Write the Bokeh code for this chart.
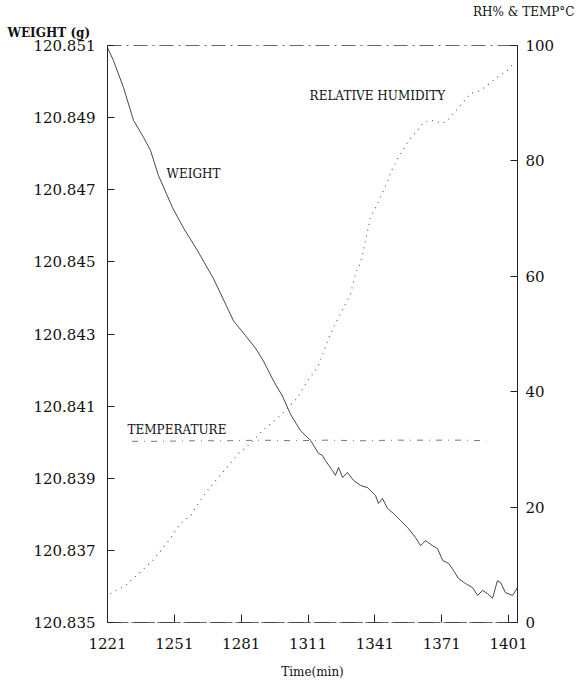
from bokeh.plotting import figure
from bokeh.models import Range1d, LinearAxis, Label, FixedTicker, NumeralTickFormatter, Title
from bokeh.embed import file_html
from bokeh.resources import INLINE

# ---- data ----
time_w = [1221, 1223.7, 1228.2, 1232.7, 1237.2, 1240.3, 1243.9, 1250.2, 1255.1, 1261.4,
          1268.6, 1277.6, 1283.0, 1287.4, 1291.0, 1295.5, 1299.5, 1303.1, 1307.6, 1312.1,
          1315.7, 1317.5, 1318.8, 1322.0, 1323.3, 1324.7, 1326.5, 1328.7, 1331.4, 1334.6,
          1337.7, 1341.3, 1342.6, 1344.4, 1346.7, 1349.4, 1352.5, 1355.7, 1359.2, 1361.5,
          1363.7, 1366.9, 1369.1, 1371.4, 1374.1, 1376.3, 1378.5, 1381.7, 1384.8, 1387.1,
          1389.3, 1391.6, 1393.8, 1396.0, 1397.4, 1399.6, 1402.8, 1405.0]
weight = [120.85094, 120.85058, 120.84983, 120.84892, 120.84845, 120.84809, 120.84739, 120.84650,
          120.84594, 120.84531, 120.84453, 120.84336, 120.84295, 120.84261, 120.84225, 120.84170,
          120.84128, 120.84078, 120.84032, 120.84005, 120.83969, 120.83963, 120.83949, 120.83921,
          120.83908, 120.83930, 120.83902, 120.83916, 120.83894, 120.83880, 120.83874, 120.83852,
          120.83830, 120.83844, 120.83816, 120.83802, 120.83783, 120.83763, 120.83736, 120.83713,
          120.83727, 120.83713, 120.83705, 120.83672, 120.83664, 120.83644, 120.83622, 120.83608,
          120.83597, 120.83575, 120.83589, 120.83580, 120.83567, 120.83616, 120.83611, 120.83583,
          120.83575, 120.83597]

time_rh = [1222.3, 1229.1, 1241.2, 1249.3, 1253.8, 1258.3, 1260.5, 1263.6, 1265.9, 1269.5,
           1275.3, 1279.8, 1286.5, 1290.6, 1295.1, 1299.5, 1301.8, 1306.3, 1310.8, 1315.3,
           1321.1, 1325.6, 1330.1, 1332.3, 1334.6, 1336.8, 1339.0, 1341.3, 1343.5, 1345.8,
           1348.9, 1351.2, 1353.9, 1356.1, 1360.1, 1362.8, 1366.9, 1371.4, 1373.6, 1383.9,
           1388.4, 1396.0, 1400.5, 1403.2]
rh = [5.0, 6.4, 10.7, 14.6, 17.2, 18.5, 19.9, 21.7, 22.9, 24.6,
      27.2, 29.3, 31.5, 33.3, 34.7, 36.2, 37.1, 39.0, 41.9, 44.2,
      50.1, 53.6, 57.0, 60.5, 62.4, 66.2, 70.2, 71.9, 73.7, 75.7,
      78.7, 80.4, 82.1, 83.5, 85.3, 86.7, 87.0, 86.5, 87.0, 91.7,
      92.2, 94.5, 95.7, 96.9]

time_t = [1232, 1245, 1260, 1275, 1290, 1305, 1320, 1335, 1350, 1365, 1380, 1391]
temp = [31.4, 31.4, 31.5, 31.5, 31.6, 31.5, 31.6, 31.5, 31.6, 31.6, 31.6, 31.5]

x_ticks = [1221, 1251, 1281, 1311, 1341, 1371, 1401]
w_ticks = [120.835, 120.837, 120.839, 120.841, 120.843, 120.845, 120.847, 120.849, 120.851]
rh_ticks = [0, 20, 40, 60, 80, 100]

FONT = "DejaVu Serif"

p = figure(width=576, height=686, output_backend="svg", toolbar_location=None,
           x_range=Range1d(1221, 1405), y_range=Range1d(120.835, 120.851),
           min_border_left=107, min_border_right=59, min_border_top=45, min_border_bottom=64)
p.extra_y_ranges = {"rh": Range1d(0, 100)}
p.grid.visible = False
p.background_fill_color = "white"
p.border_fill_color = "white"
p.outline_line_color = "#666666"
p.outline_line_width = 1
p.outline_line_dash = "14 5 2 5"

# left axis
ya = p.yaxis[0]
ya.ticker = FixedTicker(ticks=w_ticks)
ya.formatter = NumeralTickFormatter(format="0.000")
ya.major_tick_in = 7
ya.major_tick_out = 0
ya.minor_tick_line_color = None
ya.major_label_standoff = 12
ya.major_label_text_font = FONT
ya.major_label_text_font_size = "15px"
ya.major_label_text_color = "#111111"
ya.axis_line_color = "#222222"
ya.major_tick_line_color = "#222222"

# right axis
ra = LinearAxis(y_range_name="rh", ticker=FixedTicker(ticks=rh_ticks))
ra.major_tick_in = 7
ra.major_tick_out = 0
ra.minor_tick_line_color = None
ra.major_label_standoff = 8
ra.major_label_text_font = FONT
ra.major_label_text_font_size = "15px"
ra.major_label_text_color = "#111111"
ra.axis_line_color = "#222222"
ra.major_tick_line_color = "#222222"
p.add_layout(ra, "right")

# bottom axis
xa = p.xaxis[0]
xa.ticker = FixedTicker(ticks=x_ticks)
xa.major_tick_in = 8
xa.major_tick_out = 0
xa.minor_tick_line_color = None
xa.major_label_standoff = 15
xa.major_label_text_font = FONT
xa.major_label_text_font_size = "15px"
xa.major_label_text_color = "#111111"
xa.axis_line_color = "#444444"
xa.axis_line_dash = "14 5 2 5"
xa.major_tick_line_color = "#222222"
xa.axis_label = "Time(min)"
xa.axis_label_text_font = FONT
xa.axis_label_text_font_style = "normal"
xa.axis_label_text_font_size = "12px"
xa.axis_label_standoff = 13
xa.axis_label_text_color = "#111111"

# series
p.line(time_w, weight, line_color="#333333", line_width=0.9)
p.line(time_rh, rh, y_range_name="rh", line_color="#666666", line_width=1.2, line_dash="1 5")
p.line(time_t, temp, y_range_name="rh", line_color="#777777", line_width=1, line_dash="6 6 1 6")

# in-plot labels
p.add_layout(Label(x=1247.5, y=120.84744, text="WEIGHT", text_font=FONT, text_font_size="12px",
                   text_baseline="middle", text_color="#111111"))
p.add_layout(Label(x=1311.7, y=91.2, y_range_name="rh", text="RELATIVE HUMIDITY", text_font=FONT,
                   text_font_size="12px", text_baseline="middle", text_color="#111111"))
p.add_layout(Label(x=1230, y=33.3, y_range_name="rh", text="TEMPERATURE", text_font=FONT,
                   text_font_size="12px", text_baseline="middle", text_color="#111111"))

# axis titles at the top corners (titles in the top border; the left one is nearest the frame)
t_left = Title(text="WEIGHT (g)", align="left", text_font=FONT, text_font_size="12px",
               text_font_style="bold", text_color="#111111", offset=-100, standoff=11)
t_right = Title(text="RH% & TEMP°C", align="right", text_font=FONT, text_font_size="12px",
                text_font_style="normal", text_color="#111111", offset=-57, standoff=0)
p.add_layout(t_left, "above")
p.add_layout(t_right, "above")

open("out.html", "w").write(file_html(p, INLINE))
